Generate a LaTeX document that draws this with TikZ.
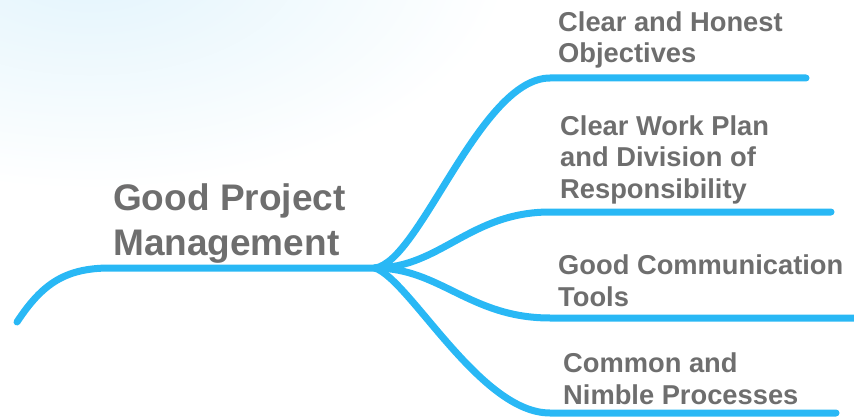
\documentclass[tikz,border=0pt]{standalone}
\usepackage{fontspec}
\setmainfont{Liberation Sans}
\definecolor{branchblue}{RGB}{41,184,245}
\definecolor{textgray}{RGB}{110,110,110}
\definecolor{haze}{RGB}{226,244,252}
\begin{document}
\begin{tikzpicture}[
    x=1pt, y=-1pt,
    branch/.style={line width=7pt, draw=branchblue, line cap=round},
    topic/.style={anchor=base west, inner sep=0pt, align=left, text=textgray, font=\bfseries\fontsize{37}{45}\selectfont},
    idea/.style={anchor=base west, inner sep=0pt, align=left, text=textgray, font=\bfseries\fontsize{27.3}{31.5}\selectfont}
]
    \useasboundingbox (0,0) rectangle (854,417);
    \shade [inner color=haze, outer color=white] (90,-40) ellipse [x radius=420, y radius=230];

    \node [topic] (main) at (113,255) {Good Project\\Management};

    \node [idea] (goal) at (558,63) {Clear and Honest\\Objectives};
    \node [idea] (plan) at (560,198) {Clear Work Plan\\and Division of\\Responsibility};
    \node [idea] (tools) at (558,306) {Good Communication\\Tools};
    \node [idea] (process) at (563,404) {Common and\\Nimble Processes};

    \coordinate (root) at (17,322);
    \coordinate (hub) at (375,268);
    \coordinate (goal end) at (806,78);
    \coordinate (plan end) at (831,212);
    \coordinate (tools end) at (860,318);
    \coordinate (process end) at (836,413);

    \draw [branch] (root) .. controls +(25,-38) and +(-45,0) .. (110,268) -- (hub);
    \draw [branch] (hub) .. controls +(45,-6) and +(-70,0) .. (550,78) -- (goal end);
    \draw [branch] (hub) .. controls +(65,0) and +(-80,0) .. (550,212) -- (plan end);
    \draw [branch] (hub) .. controls +(65,0) and +(-80,0) .. (550,318) -- (tools end);
    \draw [branch] (hub) .. controls +(35,12) and +(-70,0) .. (550,413) -- (process end);
\end{tikzpicture}
\end{document}
